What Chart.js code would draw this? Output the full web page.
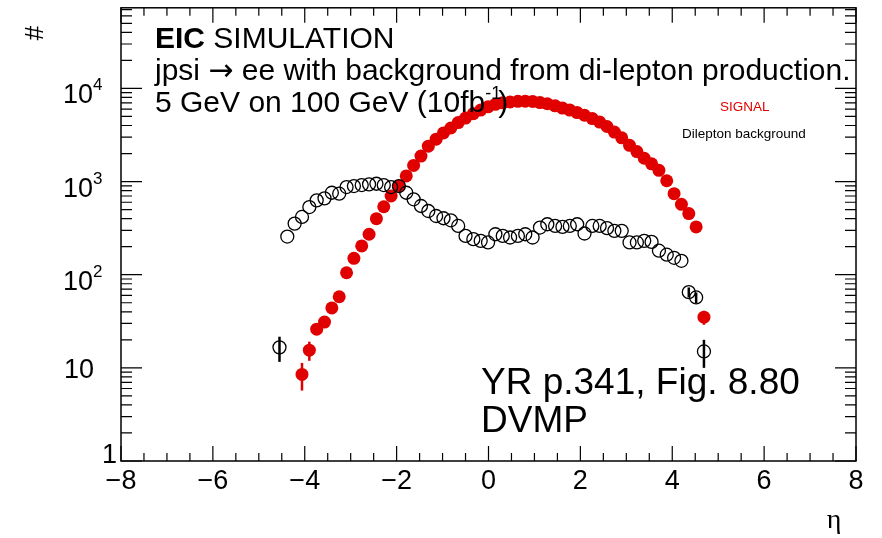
<!DOCTYPE html>
<html>
<head>
<meta charset="utf-8">
<script src="https://cdn.jsdelivr.net/npm/chart.js@4.4.1/dist/chart.umd.min.js"></script>
<style>
html, body { margin: 0; padding: 0; background: #fff; }
#wrap { width: 882px; height: 538px; position: relative; }
</style>
</head>
<body>
<div id="wrap"><canvas id="grEta"></canvas></div>
<script>
// eta bin centres
var eta = [-4.55, -4.38, -4.22, -4.06, -3.90, -3.74, -3.57, -3.41, -3.25, -3.09,
	-2.93, -2.76, -2.60, -2.44, -2.28, -2.12, -1.95, -1.79, -1.63, -1.47,
	-1.31, -1.14, -0.98, -0.82, -0.66, -0.50, -0.33, -0.17, -0.01, 0.15,
	0.31, 0.47, 0.64, 0.80, 0.96, 1.12, 1.28, 1.45, 1.61, 1.77,
	1.93, 2.09, 2.26, 2.42, 2.58, 2.74, 2.90, 3.07, 3.23, 3.39,
	3.55, 3.71, 3.88, 4.04, 4.20, 4.36, 4.52, 4.69];

// jpsi -> ee signal
var signal = [null, null, null, 8.5, 15.5, 26, 31, 44, 58, 105,
	150, 204, 272, 400, 537, 700, 890, 1150, 1490, 1880,
	2400, 2850, 3330, 3760, 4300, 4800, 5360, 5850, 6350, 6750,
	7000, 7150, 7270, 7300, 7250, 7050, 6850, 6500, 6150, 5850,
	5500, 5150, 4750, 4350, 3900, 3400, 2950, 2450, 2100, 1780,
	1550, 1320, 1020, 742, 570, 453, 326, 35];

// dilepton background
var background = [16.6, 257, 354, 417, 533, 629, 661, 759, 741, 873,
	895, 918, 934, 948, 918, 873, 895, 759, 645, 547,
	483, 427, 404, 384, 334, 261, 241, 231, 222, 272,
	261, 251, 261, 272, 251, 321, 348, 334, 326, 334,
	348, 277, 334, 334, 316, 296, 296, 222, 222, 231,
	225, 181, 164, 152, 141, 65, 57, 15];

// visible error bars (index into eta, half size)
var sigErrIdx = [3, 4, 57];
var sigErr = [2.8, 3.6, 6];
var bkgErrIdx = [0, 55, 56, 57];
var bkgErr = [5, 8, 7.5, 5];

var xTicks = [-8, -6, -4, -2, 0, 2, 4, 6, 8];
var yTicks = [1, 10, 100, 1000, 10000];
var yTickBase = ['1', '10', '10', '10', '10'];
var yTickSup = ['', '', '2', '3', '4'];

var RED = '#e10000';
var FONT = '"Liberation Sans", Arial, Helvetica, sans-serif';

function points(vals) {
	var out = [];
	for (var i = 0; i < eta.length; i++) {
		if (vals[i] !== null) out.push({x: eta[i], y: vals[i]});
	}
	return out;
}

// draws pieces of text one after another: [text, font, dy]
function textRun(ctx, x, y, parts) {
	for (var i = 0; i < parts.length; i++) {
		ctx.font = parts[i][1];
		ctx.fillText(parts[i][0], x, y + (parts[i][2] || 0));
		x += ctx.measureText(parts[i][0]).width + (parts[i][3] || 0);
	}
}

var rootStyle = {
	id: 'rootStyle',
	beforeDatasetsDraw: function(chart) {
		var ctx = chart.ctx, xs = chart.scales.x, ys = chart.scales.y;
		ctx.save();
		ctx.lineWidth = 2.5;
		function bars(idx, err, vals, col) {
			ctx.strokeStyle = col;
			for (var k = 0; k < idx.length; k++) {
				var i = idx[k];
				var px = xs.getPixelForValue(eta[i]);
				ctx.beginPath();
				ctx.moveTo(px, ys.getPixelForValue(vals[i] + err[k]));
				ctx.lineTo(px, ys.getPixelForValue(Math.max(vals[i] - err[k], 1.01)));
				ctx.stroke();
			}
		}
		bars(sigErrIdx, sigErr, signal, RED);
		bars(bkgErrIdx, bkgErr, background, '#000');
		ctx.restore();
	},
	afterDraw: function(chart) {
		var ctx = chart.ctx, a = chart.chartArea;
		var xs = chart.scales.x, ys = chart.scales.y;
		ctx.save();
		ctx.strokeStyle = '#000';
		ctx.lineWidth = 1.5;
		ctx.strokeRect(a.left, a.top, a.right - a.left, a.bottom - a.top);

		// x ticks, bottom and top, pointing inside
		ctx.lineWidth = 1.2;
		for (var v = -8; v <= 8.001; v += 0.5) {
			var px = xs.getPixelForValue(v);
			var len = (Math.abs(v % 2) < 0.01) ? 15 : 8;
			ctx.beginPath();
			ctx.moveTo(px, a.bottom); ctx.lineTo(px, a.bottom - len);
			ctx.moveTo(px, a.top); ctx.lineTo(px, a.top + len);
			ctx.stroke();
		}
		// y ticks, left and right
		for (var d = 1; d <= 10000; d *= 10) {
			for (var m = 1; m <= 9; m++) {
				var val = d * m;
				if (val > ys.max) break;
				var py = ys.getPixelForValue(val);
				var ln = (m === 1) ? 21 : 11;
				ctx.beginPath();
				ctx.moveTo(a.left, py); ctx.lineTo(a.left + ln, py);
				ctx.moveTo(a.right, py); ctx.lineTo(a.right - ln, py);
				ctx.stroke();
			}
		}

		// tick labels
		ctx.fillStyle = '#000';
		ctx.font = '27px ' + FONT;
		ctx.textAlign = 'center';
		ctx.textBaseline = 'alphabetic';
		xTicks.forEach(function(t) {
			var s = t < 0 ? '\u2212' + (-t) : String(t);
			ctx.fillText(s, xs.getPixelForValue(t), 489);
		});
		for (var j = 0; j < yTicks.length; j++) {
			var py2 = ys.getPixelForValue(yTicks[j]);
			ctx.font = '27px ' + FONT;
			ctx.textAlign = 'right';
			if (yTickSup[j]) {
				ctx.fillText(yTickBase[j], 93, py2 + 15);
				ctx.font = '17px ' + FONT;
				ctx.textAlign = 'left';
				ctx.fillText(yTickSup[j], 93, py2 + 2);
			} else if (yTicks[j] === 1) {
				ctx.fillText(yTickBase[j], 117, py2 + 2);
			} else {
				ctx.fillText(yTickBase[j], 94, py2 + 10);
			}
		}

		// axis titles
		ctx.save();
		ctx.translate(36, 33);
		ctx.rotate(-Math.PI / 2);
		ctx.font = '26px ' + FONT;
		ctx.textAlign = 'center';
		ctx.textBaseline = 'middle';
		ctx.fillText('#', 0, 0);
		ctx.restore();
		ctx.font = '28px "Liberation Serif", "DejaVu Serif", serif';
		ctx.textAlign = 'center';
		ctx.fillText('\u03B7', 834, 528);

		// header texts
		ctx.textAlign = 'left';
		var f30 = '30px ' + FONT;
		textRun(ctx, 155, 48, [['EIC ', 'bold 30px ' + FONT], ['SIMULATION', f30]]);
		textRun(ctx, 155, 80, [['jpsi ', f30], ['\u2192', '30px "DejaVu Sans", sans-serif', 0, 0],
			[' ee with background from di-lepton production.', f30]]);
		textRun(ctx, 155, 112, [['5 GeV on 100 GeV (10fb', f30], ['-1', '18px ' + FONT, -13, -3], [')', f30]]);

		// legend-like labels
		ctx.font = '13.5px ' + FONT;
		ctx.fillStyle = RED;
		ctx.fillText('SIGNAL', 720, 111);
		ctx.fillStyle = '#000';
		ctx.fillText('Dilepton background', 682, 138);

		// note
		ctx.font = '37px ' + FONT;
		ctx.fillText('YR p.341, Fig. 8.80', 481, 394);
		ctx.fillText('DVMP', 481, 432);
		ctx.restore();
	}
};

var ctxE = document.getElementById('grEta').getContext('2d');
window.myChart = new Chart(ctxE, {
	type: 'scatter',
	data: {
		datasets: [{
			label: 'Dilepton background',
			data: points(background),
			pointRadius: 6.5,
			pointBackgroundColor: 'rgba(0,0,0,0)',
			pointBorderColor: '#000',
			pointBorderWidth: 1.3,
			order: 0
		}, {
			label: 'SIGNAL',
			data: points(signal),
			pointRadius: 6.5,
			pointBackgroundColor: RED,
			pointBorderColor: RED,
			pointBorderWidth: 0,
			order: 1
		}]
	},
	options: {
		responsive: true,
		maintainAspectRatio: false,
		animation: false,
		layout: { padding: { left: 121, right: 26, top: 6, bottom: 77 } },
		plugins: { legend: { display: false }, tooltip: { enabled: false } },
		scales: {
			x: { type: 'linear', min: -8, max: 8, display: false },
			y: { type: 'logarithmic', min: 1, max: 73400, display: false }
		}
	},
	plugins: [rootStyle]
});
</script>
</body>
</html>
